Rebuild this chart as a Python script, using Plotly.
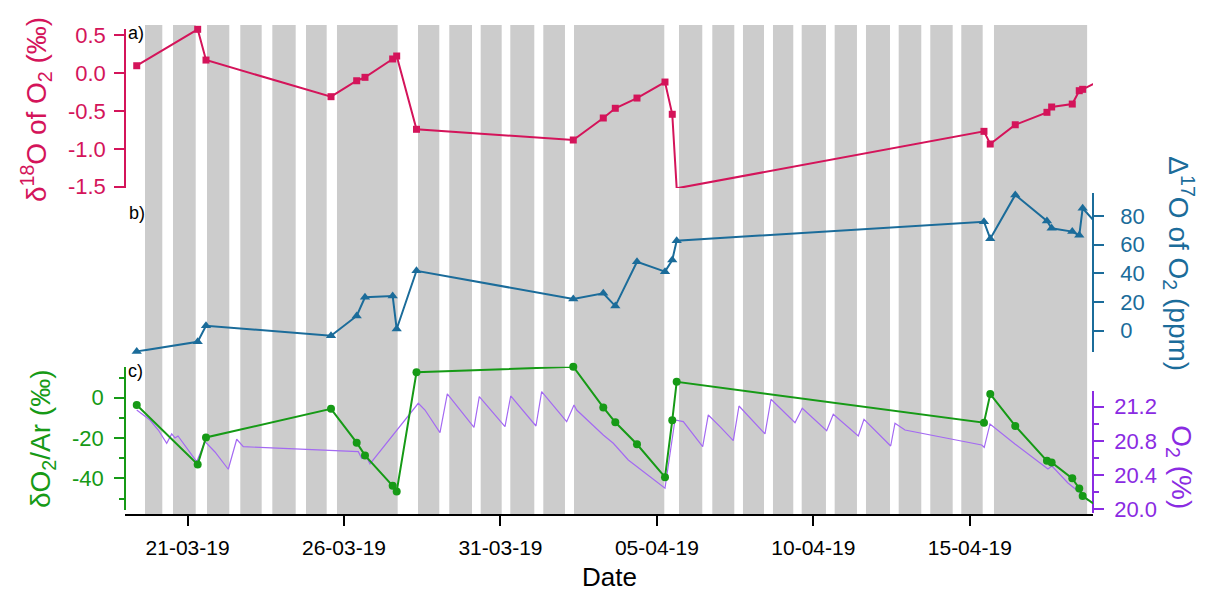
import plotly.graph_objects as go

# ---------------- data ----------------
# sampling times of the discrete O2 isotope / O2/Ar samples (last value lies past the axis end)
sample_time = [
    "2019-03-19 09:00", "2019-03-21 07:45", "2019-03-21 14:08", "2019-03-25 14:01",
    "2019-03-26 09:43", "2019-03-26 16:05", "2019-03-27 13:19", "2019-03-27 16:24",
    "2019-03-28 07:35", "2019-04-02 07:51", "2019-04-03 06:52", "2019-04-03 16:05",
    "2019-04-04 08:43", "2019-04-05 06:12", "2019-04-05 11:47", "2019-04-05 15:10",
    "2019-04-15 10:52", "2019-04-15 15:42", "2019-04-16 10:52", "2019-04-17 11:11",
    "2019-04-17 14:47", "2019-04-18 06:36", "2019-04-18 11:58", "2019-04-18 14:34",
    "2019-04-19 11:30",
]
d18O = [0.095, 0.575, 0.170, -0.313, -0.103, -0.058, 0.184, 0.223, -0.743, -0.884,
        -0.594, -0.466, -0.331, -0.120, -0.545, -1.521, -0.770, -0.937, -0.683, -0.519,
        -0.449, -0.410, -0.234, -0.216, -0.036]
D17O = [-14.5, -7.7, 3.5, -3.5, 10.3, 23.3, 24.2, 1.2, 41.8, 22.1, 26.1, 17.2, 48.1,
        41.2, 49.3, 62.8, 76.0, 64.2, 94.7, 76.5, 71.4, 69.1, 66.5, 85.4, 64.3]
dO2Ar = [-3.6, -33.1, -19.7, -5.5, -22.3, -28.6, -43.7, -46.5, 12.6, 15.4, -4.8, -12.2,
         -23.1, -39.4, -11.2, 7.9, -12.4, 1.8, -14.0, -31.3, -32.1, -40.0, -45.0, -48.8,
         -58.1]

# continuous O2 record (%)
o2_time = [
    "2019-03-19 08:59", "2019-03-19 15:20", "2019-03-19 19:10", "2019-03-20 01:32",
    "2019-03-20 07:59", "2019-03-20 11:50", "2019-03-20 14:21", "2019-03-20 16:39",
    "2019-03-21 06:59", "2019-03-21 13:22", "2019-03-21 21:01", "2019-03-22 07:13",
    "2019-03-22 13:41", "2019-03-22 18:45", "2019-03-26 10:57", "2019-03-26 13:34",
    "2019-03-26 16:51", "2019-03-26 19:55", "2019-03-28 08:59", "2019-03-28 14:07",
    "2019-03-29 01:36", "2019-03-29 07:13", "2019-03-30 03:42", "2019-03-30 07:45",
    "2019-03-31 03:29", "2019-03-31 07:51", "2019-04-01 03:14", "2019-04-01 07:36",
    "2019-04-02 02:47", "2019-04-02 08:24", "2019-04-02 10:28", "2019-04-03 06:52",
    "2019-04-03 14:33", "2019-04-04 02:02", "2019-04-05 06:12", "2019-04-05 13:51",
    "2019-04-05 20:14", "2019-04-06 11:07", "2019-04-06 15:24", "2019-04-07 00:23",
    "2019-04-07 10:35", "2019-04-07 14:57", "2019-04-08 10:54", "2019-04-08 15:30",
    "2019-04-09 09:55", "2019-04-09 15:30", "2019-04-10 10:13", "2019-04-10 15:17",
    "2019-04-11 10:28", "2019-04-11 14:50", "2019-04-12 11:18", "2019-04-12 14:37",
    "2019-04-12 22:16", "2019-04-15 09:06", "2019-04-15 11:05", "2019-04-15 15:29",
    "2019-04-16 10:38", "2019-04-17 11:57", "2019-04-17 15:01", "2019-04-18 03:17",
    "2019-04-18 16:21", "2019-04-18 18:52",
]
o2_pct = [21.161, 21.091, 21.044, 20.927, 20.772, 20.881, 20.834, 20.857, 20.557, 20.791,
          20.670, 20.468, 20.819, 20.732, 20.674, 20.596, 20.623, 20.530, 21.240, 21.161,
          20.896, 21.349, 20.959, 21.317, 20.966, 21.325, 20.974, 21.375, 21.025, 21.220,
          21.161, 20.869, 20.772, 20.577, 20.246, 21.044, 21.025, 20.732, 21.103, 20.966,
          20.802, 21.208, 20.881, 21.287, 21.013, 21.181, 20.919, 21.111, 20.857, 21.053,
          20.740, 21.006, 20.927, 20.752, 20.725, 20.998, 20.764, 20.471, 20.506, 20.308,
          20.147, 20.101]

# grey shaded periods
band_start = [
    "2019-03-19 15:20", "2019-03-20 12:49", "2019-03-21 14:54", "2019-03-22 16:26",
    "2019-03-23 17:00", "2019-03-24 18:50", "2019-03-25 18:36", "2019-03-28 08:44",
    "2019-03-29 08:44", "2019-03-30 08:50", "2019-03-31 07:32", "2019-04-01 08:51",
    "2019-04-02 08:24", "2019-04-05 16:57", "2019-04-06 18:29", "2019-04-07 18:01",
    "2019-04-08 17:02", "2019-04-09 15:03", "2019-04-10 16:21", "2019-04-11 16:22",
    "2019-04-12 17:27", "2019-04-13 17:41", "2019-04-14 17:28", "2019-04-15 18:33",
]
band_end = [
    "2019-03-20 04:36", "2019-03-21 06:14", "2019-03-22 08:00", "2019-03-23 08:51",
    "2019-03-24 10:55", "2019-03-25 10:42", "2019-03-27 17:10", "2019-03-29 01:05",
    "2019-03-30 02:10", "2019-03-31 00:56", "2019-04-01 01:57", "2019-04-02 01:29",
    "2019-04-05 05:40", "2019-04-06 10:48", "2019-04-07 11:21", "2019-04-08 10:08",
    "2019-04-09 08:36", "2019-04-10 09:40", "2019-04-11 09:27", "2019-04-12 10:47",
    "2019-04-13 10:47", "2019-04-14 10:52", "2019-04-15 09:53", "2019-04-18 18:00",
]

a_ticks = [-1.5, -1.0, -0.5, 0.0, 0.5]
a_ticktext = ["-1.5", "-1.0", "-0.5", "0.0", "0.5"]
b_ticks = [0, 20, 40, 60, 80]
c_ticks = [-40, -20, 0]
c_ticktext = ["-40", "-20", "0"]
c_minor = [-50, -30, -10, 10]
o2_ticks = [20.0, 20.4, 20.8, 21.2]
o2_ticktext = ["20.0", "20.4", "20.8", "21.2"]
o2_minor = [20.2, 20.6, 21.0]

# ---------------- style ----------------
CRIMSON = "#D4145A"
BLUE = "#1B6C9A"
GREEN = "#169A16"
PURPLE_AX = "#8A2BE2"
PURPLE_LN = "#A46AF2"
FONT = "Liberation Sans, Arial, sans-serif"

n = len(sample_time) - 1  # points inside the axis range

fig = go.Figure()

# panel a
fig.add_trace(go.Scatter(x=sample_time, y=d18O, mode="lines", yaxis="y",
                         line=dict(color=CRIMSON, width=2), hoverinfo="skip"))
fig.add_trace(go.Scatter(x=sample_time[:n], y=d18O[:n], mode="markers", yaxis="y",
                         marker=dict(symbol="square", size=7, color=CRIMSON),
                         cliponaxis=False))
# panel b
fig.add_trace(go.Scatter(x=sample_time, y=D17O, mode="lines", yaxis="y2",
                         line=dict(color=BLUE, width=2), hoverinfo="skip"))
fig.add_trace(go.Scatter(x=sample_time[:n], y=D17O[:n], mode="markers", yaxis="y2",
                         marker=dict(symbol="triangle-up", size=9, color=BLUE),
                         cliponaxis=False))
# panel c - O2 (%)
fig.add_trace(go.Scatter(x=o2_time, y=o2_pct, mode="lines", yaxis="y3",
                         line=dict(color=PURPLE_LN, width=1.2)))
# panel c - dO2/Ar
fig.add_trace(go.Scatter(x=sample_time, y=dO2Ar, mode="lines", yaxis="y4",
                         line=dict(color=GREEN, width=2), hoverinfo="skip"))
fig.add_trace(go.Scatter(x=sample_time[:n], y=dO2Ar[:n], mode="markers", yaxis="y4",
                         marker=dict(symbol="circle", size=8, color=GREEN),
                         cliponaxis=False))

shapes = []
for s, e in zip(band_start, band_end):
    shapes.append(dict(type="rect", xref="x", yref="paper", x0=s, x1=e, y0=0, y1=1,
                       fillcolor="#CCCCCC", line=dict(width=0), layer="below"))

def yax(color, domain, rng, side, ticks, ticktext=None, minor=None, standoff=4):
    d = dict(domain=domain, range=rng, anchor="free", position=0 if side == "left" else 1,
             side=side, showline=True, linecolor=color, linewidth=1.5,
             ticks="outside", ticklen=10, tickwidth=1.5, tickcolor=color,
             tickmode="array", tickvals=ticks,
             tickfont=dict(color=color, size=22, family=FONT),
             showgrid=False, zeroline=False, ticklabelstandoff=standoff)
    if ticktext is not None:
        d["ticktext"] = ticktext
    if minor is not None:
        d["minor"] = dict(tickmode="array", tickvals=minor, ticks="outside", ticklen=5,
                          tickwidth=1.5, tickcolor=color, showgrid=False)
    return d

ann = []
def A(text, xp, yp, size, color, angle=0, xanchor="center"):
    ann.append(dict(text=text, xref="paper", yref="paper",
                    x=(xp - 125) / 968.3, y=(515 - yp) / 490,
                    xanchor=xanchor, yanchor="middle", showarrow=False, textangle=angle,
                    font=dict(size=size, color=color, family=FONT)))

A("a)", 126, 33, 18, "black", xanchor="left")
A("b)", 127, 213, 18, "black", xanchor="left")
A("c)", 126, 371, 18, "black", xanchor="left")
A("δ<sup>18</sup>O of O<sub>2</sub> (‰)", 36, 110, 28, CRIMSON, angle=-90)
A("δO<sub>2</sub>/Ar (‰)", 42, 439, 28, GREEN, angle=-90)
A("Δ<sup>17</sup>O of O<sub>2</sub> (ppm)", 1179, 264, 28, BLUE, angle=90)
A("O<sub>2</sub> (%)", 1180, 467, 28, PURPLE_AX, angle=90)
A("Date", 610, 577, 26, "black")

fig.update_layout(
    width=1213, height=591,
    margin=dict(l=125, r=120, t=25, b=76, autoexpand=False),
    paper_bgcolor="white", plot_bgcolor="rgba(0,0,0,0)",
    showlegend=False,
    font=dict(family=FONT, size=20, color="black"),
    xaxis=dict(type="date", range=["2019-03-19 00:00", "2019-04-18 22:30"],
               domain=[0, 1], anchor="free", position=0,
               showline=True, linecolor="black", linewidth=1.5,
               ticks="outside", ticklen=10, tickwidth=1.5, tickcolor="black",
               tick0="2019-03-21", dtick=5 * 86400000, tickformat="%d-%m-%y",
               tickfont=dict(size=21, color="black", family=FONT),
               showgrid=False, zeroline=False, ticklabelstandoff=4),
    yaxis=yax(CRIMSON, [0.6673, 0.9912], [-1.517, 0.575], "left", a_ticks, a_ticktext),
    yaxis2=yax(BLUE, [0.3333, 0.6565], [-14.6, 95.8], "right", b_ticks, standoff=12),
    yaxis3=yax(PURPLE_AX, [0.0035, 0.2537], [19.953, 21.387], "right", o2_ticks,
               o2_ticktext, o2_minor, standoff=6),
    yaxis4=yax(GREEN, [0.0102, 0.3027], [-55.7, 15.4], "left", c_ticks, c_ticktext,
               c_minor, standoff=6),
    shapes=shapes,
    annotations=ann,
)

fig.write_html("out.html", config={"displayModeBar": False},
               post_script="document.body.style.margin='0px';document.body.style.overflow='hidden';")
